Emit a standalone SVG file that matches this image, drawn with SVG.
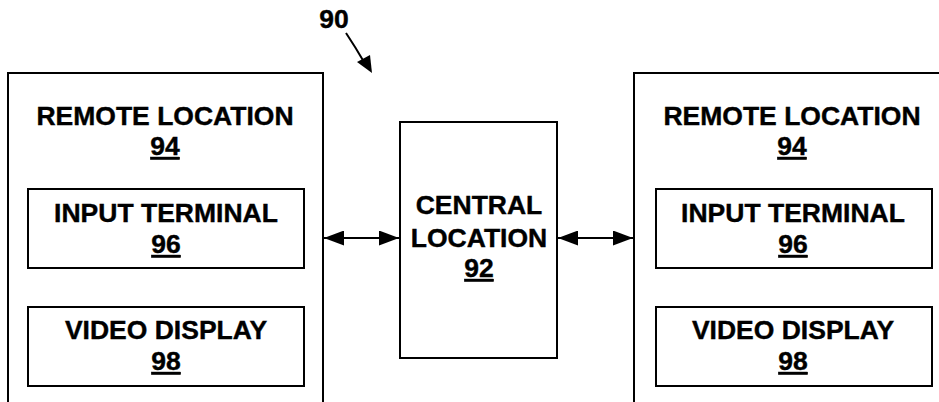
<svg xmlns="http://www.w3.org/2000/svg" width="939" height="402" viewBox="0 0 939 402">
  <style>
    .box { fill: #fff; stroke: #000; stroke-width: 2; }
    .lbl { font-family: "Liberation Sans", Arial, sans-serif; font-weight: bold; font-size: 26.5px; fill: #000; stroke: #000; stroke-width: 0.4; text-anchor: middle; }
    .num { text-decoration: underline; }
    .conn { stroke: #000; stroke-width: 2; fill: none; }
  </style>
  <defs>
    <marker id="ah" viewBox="0 0 20 15" refX="20" refY="7.5" markerWidth="20" markerHeight="15" markerUnits="userSpaceOnUse" orient="auto-start-reverse">
      <path d="M0,0 L20,7.5 L0,15 Z" fill="#000"/>
    </marker>
  </defs>

  <!-- figure reference numeral -->
  <g id="ref90">
    <text class="lbl" x="334" y="28">90</text>
    <path class="conn" d="M346,33 Q356,48 364,62"/>
    <path d="M357,62 L372,73 L370,55 Z" fill="#000"/>
  </g>

  <!-- left remote location -->
  <g id="remote-left">
    <path class="box" d="M8,403 V73 H323 V403"/>
    <text class="lbl" x="165" y="125">REMOTE LOCATION</text>
    <text class="lbl num" x="165" y="155">94</text>
  </g>
  <g id="input-left">
    <rect class="box" x="28" y="189" width="276" height="79"/>
    <text class="lbl" x="166" y="222">INPUT TERMINAL</text>
    <text class="lbl num" x="166" y="253">96</text>
  </g>
  <g id="video-left">
    <rect class="box" x="28" y="307" width="276" height="79"/>
    <text class="lbl" x="166" y="339">VIDEO DISPLAY</text>
    <text class="lbl num" x="166" y="370">98</text>
  </g>

  <!-- central location -->
  <g id="central">
    <rect class="box" x="400" y="122" width="157" height="236"/>
    <text class="lbl" x="479" y="214">CENTRAL</text>
    <text class="lbl" x="479" y="247">LOCATION</text>
    <text class="lbl num" x="479" y="277">92</text>
  </g>

  <!-- right remote location -->
  <g id="remote-right">
    <path class="box" d="M634,403 V73 H940"/>
    <text class="lbl" x="792" y="125">REMOTE LOCATION</text>
    <text class="lbl num" x="792" y="155">94</text>
  </g>
  <g id="input-right">
    <rect class="box" x="656" y="189" width="276" height="79"/>
    <text class="lbl" x="793" y="222">INPUT TERMINAL</text>
    <text class="lbl num" x="793" y="253">96</text>
  </g>
  <g id="video-right">
    <rect class="box" x="656" y="307" width="276" height="79"/>
    <text class="lbl" x="793" y="339">VIDEO DISPLAY</text>
    <text class="lbl num" x="793" y="370">98</text>
  </g>

  <!-- bidirectional links -->
  <g id="connectors">
    <line class="conn" x1="324" y1="238" x2="399" y2="238" marker-start="url(#ah)" marker-end="url(#ah)"/>
    <line class="conn" x1="558" y1="238" x2="633" y2="238" marker-start="url(#ah)" marker-end="url(#ah)"/>
  </g>
</svg>
